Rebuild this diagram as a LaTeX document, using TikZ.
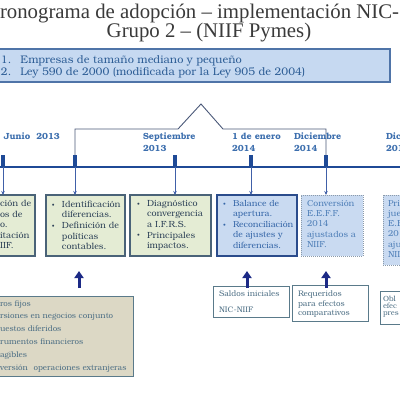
\documentclass[tikz,border=0pt]{standalone}
\usepackage{fontspec}
\setmainfont{Liberation Serif}
\newfontfamily\bk{texgyrebonum}[Extension=.otf,UprightFont=*-regular,BoldFont=*-bold]
\usetikzlibrary{arrows.meta}
\definecolor{titlec}{HTML}{3A3A3A}
\definecolor{topfill}{HTML}{C6D9F1}
\definecolor{topdraw}{HTML}{4F74A8}
\definecolor{toptext}{HTML}{2E5E96}
\definecolor{tlc}{HTML}{1F4A96}
\definecolor{brc}{HTML}{4A5878}
\definecolor{lblc}{HTML}{3D6FAE}
\definecolor{grfill}{HTML}{E4ECD4}
\definecolor{grdraw}{HTML}{4A6378}
\definecolor{grtext}{HTML}{2E4258}
\definecolor{blfill}{HTML}{C9DAF1}
\definecolor{bldraw}{HTML}{2B4C8C}
\definecolor{bltext}{HTML}{3566A8}
\definecolor{dotdraw}{HTML}{8A9AAA}
\definecolor{dottext}{HTML}{4F7FB8}
\definecolor{tanfill}{HTML}{DCD8C5}
\definecolor{slated}{HTML}{5A7A8A}
\definecolor{slatet}{HTML}{4C6E84}
\definecolor{arrowc}{HTML}{1C2A86}
\definecolor{dnc}{HTML}{4060A8}
\newcommand{\fz}[2]{\fontsize{#1}{#2}\selectfont}
\newcommand{\bul}{\makebox[10pt][l]{\raisebox{0.3pt}{\fz{6}{6}•}}}
\newcommand{\ind}{\hspace{10pt}}
\newcommand{\tb}[1]{\begin{tabular}[t]{@{}l@{}}#1\end{tabular}}
\newcommand{\bx}[6]{\node[#6, minimum width={(#4)-(#2)}, minimum height={(#5)-(#3)}] (#1) at ({((#2)+(#4))/2},{((#3)+(#5))/2}) {};}
\begin{document}
\begin{tikzpicture}[x=1pt,y=-1pt,
  every node/.style={inner sep=0pt, outer sep=0pt},
  txt/.style={anchor=base west, inner sep=0pt},
  greenbox/.style={draw=grdraw, fill=grfill, line width=1.1pt},
  bluebox/.style={draw=bldraw, fill=blfill, line width=1.6pt},
  dotbox/.style={draw=dotdraw, fill=blfill, line width=1pt, densely dotted},
  tanbox/.style={draw=slated, fill=tanfill, line width=1pt},
  whitebox/.style={draw=slated, fill=white, line width=1pt},
  tickmark/.style={fill=tlc, minimum width=3.2pt, minimum height=12pt},
  dnarrow/.style={draw=dnc, line width=0.7pt, -{Stealth[length=4pt,width=3.5pt]}},
  uparrow/.style={draw=arrowc, line width=3pt, -{Triangle[width=9pt,length=7pt]}},
  brk/.style={draw=brc, line width=0.9pt},
  lbl/.style={txt, text=lblc, font=\bk\bfseries\fz{8.9}{12}},
  gtxt/.style={txt, text=grtext, font=\bk\fz{8.9}{10.3}},
  btxt/.style={txt, text=bltext, font=\bk\fz{8.6}{10.3}},
  dtxt/.style={txt, text=dottext, font=\bk\fz{8.7}{10.3}},
  stxt/.style={txt, text=slatet, font=\bk\fz{8}{9.5}}
]
\useasboundingbox (0,0) rectangle (400,400);
\clip (0,0) rectangle (400,400);
% title
\node[anchor=base west, text=titlec, font=\fz{20.8}{24}] (title1) at (0,18) {ronograma de adopción – implementación NIC-};
\node[anchor=base, text=titlec, font=\fz{20.8}{24}] (title2) at (209,37) {Grupo 2 – (NIIF Pymes)};
% top box
\bx{topbox}{-5}{49}{390}{82}{draw=topdraw, fill=topfill, line width=1.1pt}
\node[txt, text=toptext, font=\bk\fz{11}{12}] (topt) at (1,63)
  {\begin{tabular}[t]{@{}l@{\hspace{9pt}}l@{}}1. & Empresas de tamaño mediano y pequeño\\ 2. & Ley 590 de 2000 (modificada por la Ley 905 de 2004)\end{tabular}};
% timeline
\coordinate (tlA) at (0,167);
\coordinate (tlB) at (400,167);
\draw[tlc, line width=2.7pt] (tlA) -- (tlB);
\node[tickmark] (t0) at (3,161) {};
\node[tickmark] (t1) at (75,161) {};
\node[tickmark] (t2) at (175,161) {};
\node[tickmark] (t3) at (251,161) {};
\node[tickmark] (t4) at (326,161) {};
% bracket
\coordinate (br1) at (178,129);
\coordinate (brpk) at (201,104);
\coordinate (br2) at (223,129);
\draw[brk] (t1.north) |- (br1) -- (brpk) -- (br2) -| (t4.north);
% labels
\node[lbl] (l1) at (4,139) {\tb{Junio\hspace{3pt} 2013}};
\node[lbl] (l2) at (143,139) {\tb{Septiembre\\ 2013}};
\node[lbl] (l3) at (232,139) {\tb{1 de enero\\ 2014}};
\node[lbl] (l4) at (294,139) {\tb{Diciembre\\ 2014}};
\node[lbl] (l5) at (386,139) {\tb{Dic\\ 201}};
% boxes
\bx{b0}{-5}{195}{35}{256}{greenbox}
\bx{b1}{46}{195}{125}{256}{greenbox}
\bx{b2}{130}{195}{211}{256}{greenbox}
\bx{b3}{217}{195}{297}{256}{bluebox}
\bx{b4}{301}{195}{363}{256}{dotbox}
\bx{b5}{383}{195}{410}{265}{dotbox}
\node[gtxt] (b0t) at (0,206.7) {\tb{ción de\\ os de\\ o.\\[0.5pt] itación\\ IIF.}};
\node[gtxt] (b1t) at (52,207.3) {\tb{\bul Identificación\\ \ind diferencias.\\[0.8pt] \bul Definición de\\ \ind políticas\\ \ind contables.}};
\node[gtxt] (b2t) at (137,206.5) {\tb{\bul Diagnóstico\\ \ind convergencia\\ \ind a I.F.R.S.\\[0.8pt] \bul Principales\\ \ind impactos.}};
\node[btxt] (b3t) at (223,206.3) {\tb{\bul Balance de\\ \ind apertura.\\[0.5pt] \bul Reconciliación\\ \ind de ajustes y\\ \ind diferencias.}};
\node[dtxt] (b4t) at (307,206.3) {\tb{Conversión\\ E.E.F.F.\\ 2014\\ ajustados a\\ NIIF.}};
\node[dtxt] (b5t) at (388,206) {\tb{Pri\\ jue\\ E.E\\ 20\\ aju\\ NII}};
% arrows down
\draw[dnarrow] (t0.south) -- (t0.south |- b0.north);
\draw[dnarrow] (t1.south) -- (t1.south |- b1.north);
\draw[dnarrow] (t2.south) -- (t2.south |- b2.north);
\draw[dnarrow] (t3.south) -- (t3.south |- b3.north);
\draw[dnarrow] (t4.south) -- (t4.south |- b4.north);
% bottom boxes
\bx{tan}{-5}{296}{133}{376}{tanbox}
\node[txt, text=slatet, font=\bk\fz{8}{12.9}] (tant) at (0,306)
  {\tb{ros fijos\\ rsiones en negocios conjunto\\ uestos diferidos\\ rumentos financieros\\ agibles\\ versión\hspace{3pt} operaciones extranjeras}};
\bx{s1}{213}{286}{289}{317}{whitebox}
\bx{s2}{292}{285}{368}{321}{whitebox}
\bx{s3}{380}{291}{410}{324}{whitebox}
\node[stxt] (s1t) at (219,296.7) {\tb{Saldos iniciales\\[6.5pt] NIC-NIIF}};
\node[stxt] (s2t) at (298,296.7) {\tb{Requeridos\\ para efectos\\ comparativos}};
\node[txt, text=slatet, font=\bk\fz{7.5}{7}] (s3t) at (383,301) {\tb{Obl\\ efec\\ pres}};
% up arrows
\coordinate (u1a) at (79,288);
\coordinate (u1b) at (79,271);
\coordinate (u2a) at (247,288);
\coordinate (u2b) at (247,271);
\coordinate (u3a) at (326,288);
\coordinate (u3b) at (326,271);
\draw[uparrow] (u1a) -- (u1b);
\draw[uparrow] (u2a) -- (u2b);
\draw[uparrow] (u3a) -- (u3b);
\end{tikzpicture}
\end{document}
